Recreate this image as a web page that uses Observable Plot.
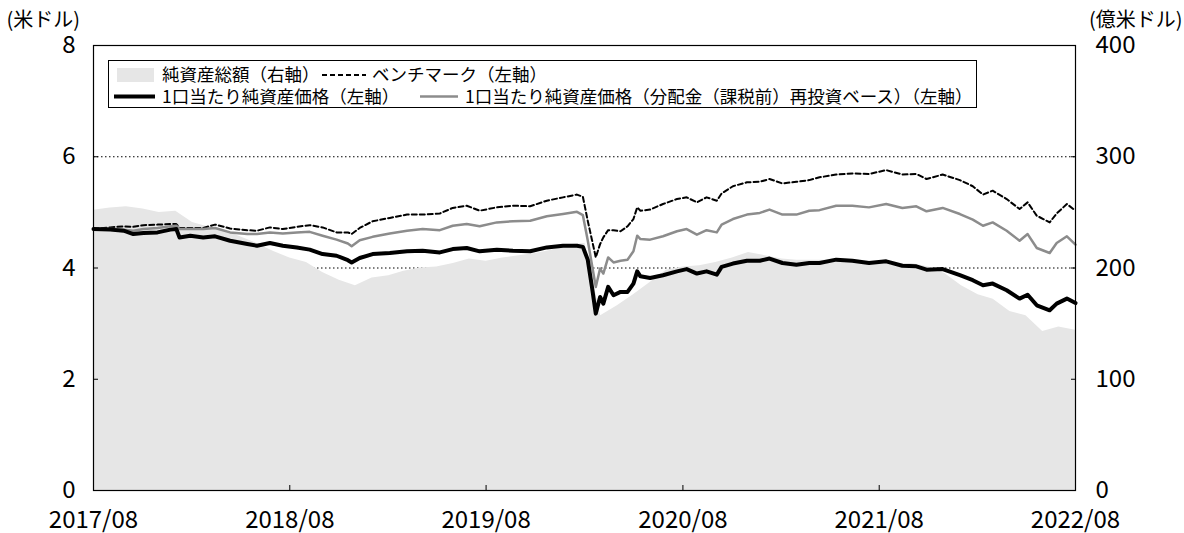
<!DOCTYPE html>
<html><head><meta charset="utf-8">
<script src="https://cdn.jsdelivr.net/npm/d3@7"></script>
<script src="https://cdn.jsdelivr.net/npm/@observablehq/plot@0.6"></script>
<style>body{margin:0;background:#fff;font-family:"Noto Sans CJK JP",sans-serif}</style>
</head><body><div id="chart"></div>
<script>
// 純資産総額 (億米ドル, right axis), monthly
const assetDates = ["2017-08-01","2017-09-01","2017-10-01","2017-11-01","2017-12-01","2018-01-01","2018-02-01","2018-03-01","2018-04-01","2018-05-01","2018-06-01","2018-07-01","2018-08-01","2018-09-01","2018-10-01","2018-11-01","2018-12-01","2019-01-01","2019-02-01","2019-03-01","2019-04-01","2019-05-01","2019-06-01","2019-07-01","2019-08-01","2019-09-01","2019-10-01","2019-11-01","2019-12-01","2020-01-01","2020-02-01","2020-03-01","2020-04-01","2020-05-01","2020-06-01","2020-07-01","2020-08-01","2020-09-01","2020-10-01","2020-11-01","2020-12-01","2021-01-01","2021-02-01","2021-03-01","2021-04-01","2021-05-01","2021-06-01","2021-07-01","2021-08-01","2021-09-01","2021-10-01","2021-11-01","2021-12-01","2022-01-01","2022-02-01","2022-03-01","2022-04-01","2022-05-01","2022-06-01","2022-07-01","2022-08-01"];
const assetValues = [252,254,255,253,250,251,241,237,234,228,222,215,209,205,196,189,184,191,193,197,200,201,204,208,206,209,211,213,216,221,222,157,166,176,187,198,201,202,205,209,214,211,208,207,207,207,206,205,205,204,204,201,195,184,176,172,161,157,143,147,144];

// 1口当たり純資産価格 / 再投資ベース / ベンチマーク (米ドル, left axis)
const lineDates = ["2017-08-01","2017-09-01","2017-09-26","2017-10-14","2017-11-02","2017-11-28","2017-12-22","2018-01-02","2018-01-08","2018-01-28","2018-02-21","2018-03-15","2018-04-12","2018-05-14","2018-06-01","2018-06-25","2018-07-19","2018-08-14","2018-09-07","2018-10-01","2018-10-27","2018-11-17","2018-11-24","2018-12-09","2019-01-02","2019-02-03","2019-03-07","2019-04-05","2019-05-07","2019-05-31","2019-06-26","2019-07-20","2019-08-21","2019-09-20","2019-10-22","2019-11-22","2019-12-22","2020-01-17","2020-01-28","2020-02-06","2020-02-14","2020-02-21","2020-02-29","2020-03-06","2020-03-15","2020-03-25","2020-04-07","2020-04-20","2020-05-01","2020-05-08","2020-05-14","2020-06-01","2020-06-25","2020-07-21","2020-08-08","2020-08-27","2020-09-14","2020-10-03","2020-10-12","2020-11-02","2020-11-28","2020-12-22","2021-01-09","2021-02-02","2021-02-28","2021-03-24","2021-04-12","2021-05-13","2021-06-12","2021-07-13","2021-08-14","2021-09-13","2021-10-09","2021-10-28","2021-11-27","2021-12-29","2022-01-22","2022-02-10","2022-02-28","2022-03-26","2022-04-19","2022-05-04","2022-05-21","2022-06-14","2022-06-27","2022-07-16","2022-08-01"];
const nav = [4.70,4.69,4.67,4.61,4.63,4.64,4.69,4.70,4.55,4.58,4.55,4.57,4.49,4.43,4.40,4.45,4.40,4.37,4.33,4.25,4.22,4.14,4.10,4.18,4.25,4.27,4.30,4.31,4.28,4.34,4.36,4.30,4.33,4.31,4.30,4.37,4.40,4.40,4.38,4.15,3.65,3.18,3.48,3.36,3.66,3.51,3.57,3.57,3.72,3.94,3.85,3.82,3.87,3.94,3.98,3.90,3.94,3.88,4.02,4.08,4.13,4.13,4.17,4.09,4.06,4.09,4.09,4.15,4.13,4.09,4.12,4.04,4.03,3.97,3.98,3.87,3.78,3.69,3.72,3.60,3.45,3.52,3.33,3.24,3.36,3.45,3.37];
const navReinvested = [4.70,4.70,4.69,4.67,4.70,4.72,4.75,4.76,4.70,4.70,4.70,4.72,4.64,4.61,4.61,4.64,4.62,4.64,4.65,4.58,4.51,4.44,4.39,4.50,4.56,4.62,4.67,4.70,4.68,4.76,4.79,4.75,4.82,4.84,4.85,4.93,4.97,5.01,4.95,4.50,4.05,3.66,3.99,3.90,4.19,4.10,4.13,4.15,4.30,4.58,4.52,4.51,4.57,4.66,4.70,4.60,4.68,4.64,4.78,4.88,4.96,4.99,5.05,4.96,4.96,5.03,5.04,5.12,5.12,5.09,5.15,5.08,5.11,5.02,5.08,4.97,4.87,4.76,4.82,4.67,4.49,4.61,4.36,4.27,4.45,4.57,4.42];
const benchmark = [4.70,4.73,4.75,4.74,4.77,4.78,4.79,4.79,4.72,4.72,4.72,4.78,4.71,4.68,4.67,4.73,4.70,4.74,4.77,4.73,4.64,4.64,4.61,4.72,4.84,4.90,4.96,4.96,4.98,5.08,5.12,5.03,5.09,5.12,5.11,5.21,5.27,5.32,5.28,4.85,4.50,4.19,4.43,4.55,4.68,4.68,4.66,4.75,4.88,5.09,5.03,5.05,5.15,5.24,5.27,5.18,5.27,5.21,5.34,5.47,5.54,5.55,5.60,5.52,5.55,5.58,5.63,5.68,5.70,5.69,5.76,5.68,5.69,5.60,5.68,5.58,5.47,5.32,5.39,5.24,5.06,5.18,4.94,4.82,4.98,5.15,5.03];

const leftTicks = [0, 2, 4, 6, 8];
const gridValues = [2, 4, 6];
const xTickDates = ["2017-08-01","2018-08-01","2019-08-01","2020-08-01","2021-08-01","2022-08-01"];
const xTickLabels = ["2017/08","2018/08","2019/08","2020/08","2021/08","2022/08"];
const leftUnit = "(米ドル)";
const rightUnit = "(億米ドル)";
const legendLabels = ["純資産総額（右軸）","ベンチマーク（左軸）","1口当たり純資産価格（左軸）","1口当たり純資産価格（分配金（課税前）再投資ベース）（左軸）"];
const RIGHT_PER_LEFT = 50; // 400 億米ドル ↔ 8 米ドル

const parse = d3.utcParse("%Y-%m-%d");
const assets = assetDates.map((d, i) => ({date: parse(d), value: assetValues[i]}));
const lines = lineDates.map((d, i) => ({date: parse(d), nav: nav[i], reinv: navReinvested[i], bench: benchmark[i]}));
const tickDates = xTickDates.map(parse);
const tickLabelMap = new Map(tickDates.map((d, i) => [+d, xTickLabels[i]]));
const FONT = '"Noto Sans CJK JP", "Noto Sans", sans-serif';

const chart = Plot.plot({
  width: 1184, height: 533,
  marginLeft: 93, marginRight: 109, marginTop: 45, marginBottom: 43,
  style: {fontFamily: FONT, fontSize: "24px", color: "#000", background: "#fff"},
  x: {type: "utc", domain: [tickDates[0], tickDates[tickDates.length - 1]]},
  y: {domain: [0, 8]},
  marks: [
    Plot.ruleY(gridValues, {stroke: "#000", strokeWidth: 1, strokeDasharray: "1.5,2.5"}),
    Plot.areaY(assets, {x: "date", y: d => d.value / RIGHT_PER_LEFT, fill: "#e6e6e6"}),
    Plot.lineY(lines, {x: "date", y: "bench", stroke: "#000", strokeWidth: 2, strokeDasharray: "5,3"}),
    Plot.lineY(lines, {x: "date", y: "reinv", stroke: "#8c8c8c", strokeWidth: 2.5}),
    Plot.lineY(lines, {x: "date", y: "nav", stroke: "#000", strokeWidth: 4}),
    Plot.frame({stroke: "#000", strokeWidth: 1.2}),
    Plot.axisY({anchor: "left", ticks: leftTicks, tickSize: -5, tickPadding: 23, label: null, fontSize: 24}),
    Plot.axisY({anchor: "right", ticks: leftTicks, tickFormat: d => d * RIGHT_PER_LEFT, tickSize: -5, tickPadding: 25, label: null, fontSize: 24}),
    Plot.axisX({ticks: tickDates, tickFormat: d => tickLabelMap.get(+d), tickSize: -5, tickPadding: 25, label: null, fontSize: 24}),
    Plot.text([leftUnit], {text: d => d, frameAnchor: "top-left", dx: -87, dy: -33, textAnchor: "start", fontSize: 20}),
    Plot.text([rightUnit], {text: d => d, frameAnchor: "top-right", dx: 107, dy: -33, textAnchor: "end", fontSize: 20})
  ]
});
document.getElementById("chart").append(chart);

// legend
const svg = d3.select(chart);
const g = svg.append("g").attr("font-family", FONT).attr("font-size", 17.5).attr("fill", "#000").attr("text-anchor", "start");
g.append("rect").attr("x", 108.5).attr("y", 60.5).attr("width", 868).attr("height", 47).attr("fill", "#fff").attr("stroke", "#000");
const r1 = 75, r2 = 96.5;
g.append("rect").attr("x", 117).attr("y", r1 - 7).attr("width", 37).attr("height", 14).attr("fill", "#e6e6e6");
g.append("text").attr("x", 162).attr("y", r1).attr("dy", "0.36em").text(legendLabels[0]);
g.append("line").attr("x1", 322).attr("x2", 366).attr("y1", r1).attr("y2", r1).attr("stroke", "#000").attr("stroke-width", 2).attr("stroke-dasharray", "5,3");
g.append("text").attr("x", 372).attr("y", r1).attr("dy", "0.36em").text(legendLabels[1]);
g.append("line").attr("x1", 114).attr("x2", 155).attr("y1", r2).attr("y2", r2).attr("stroke", "#000").attr("stroke-width", 4);
g.append("text").attr("x", 162).attr("y", r2).attr("dy", "0.36em").text(legendLabels[2]);
g.append("line").attr("x1", 420).attr("x2", 458).attr("y1", r2).attr("y2", r2).attr("stroke", "#8c8c8c").attr("stroke-width", 2.5);
g.append("text").attr("x", 465).attr("y", r2).attr("dy", "0.36em").text(legendLabels[3]);
</script></body></html>
